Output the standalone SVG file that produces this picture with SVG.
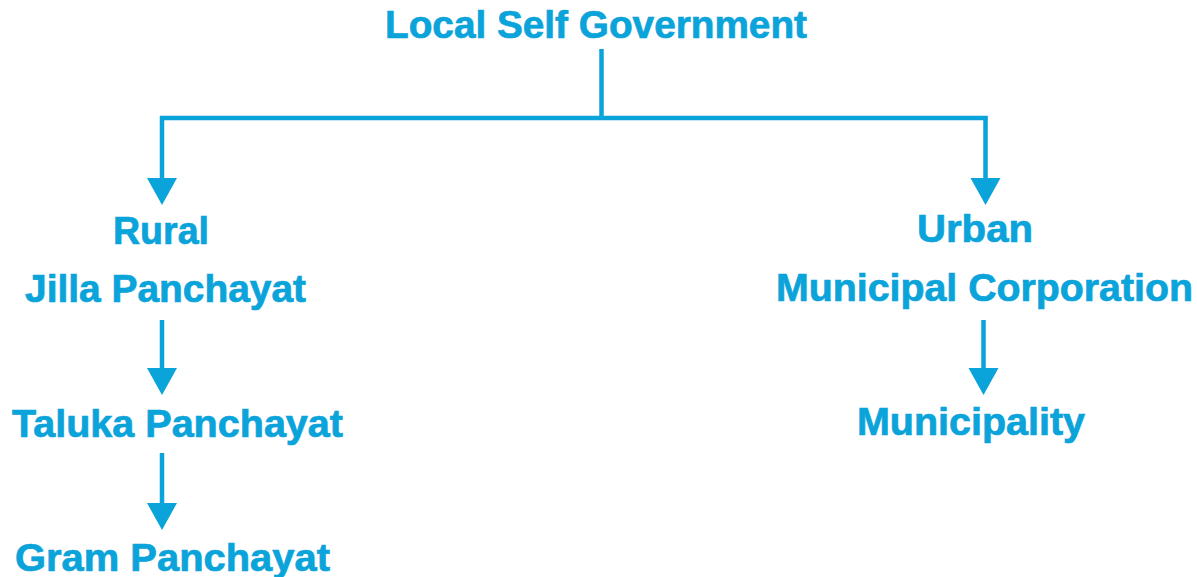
<svg xmlns="http://www.w3.org/2000/svg" width="1197" height="577" viewBox="0 0 1197 577">
<style>
  .lbl { font-family: "Liberation Sans", Arial, sans-serif; font-weight: bold; font-size: 38px; fill: #0aa3da; stroke: #0aa3da; stroke-width: 0.7px; }
  .con { stroke: #0aa3da; stroke-width: 4.5; fill: none; }
</style>
<defs>
  <marker id="arr" markerUnits="userSpaceOnUse" markerWidth="28" markerHeight="31" refX="0" refY="15" orient="auto" viewBox="0 0 28 31">
    <path d="M0,0 L27,15 L0,30 Z" fill="#0aa3da"/>
  </marker>
</defs>
<rect width="1197" height="577" fill="#ffffff"/>
<g id="connectors">
  <path class="con" d="M601.5,49 V118"/>
  <path class="con" d="M160,118 H987.5"/>
  <path class="con" d="M162,116 V178" marker-end="url(#arr)"/>
  <path class="con" d="M985.5,116 V178" marker-end="url(#arr)"/>
  <path class="con" d="M162,320 V368" marker-end="url(#arr)"/>
  <path class="con" d="M162,453 V503" marker-end="url(#arr)"/>
  <path class="con" d="M983.5,320 V368" marker-end="url(#arr)"/>
</g>
<g id="node-local-self-government"><text class="lbl" x="385" y="38" textLength="422" lengthAdjust="spacingAndGlyphs">Local Self Government</text></g>
<g id="node-rural"><text class="lbl" x="113" y="244" textLength="96" lengthAdjust="spacingAndGlyphs">Rural</text></g>
<g id="node-jilla-panchayat"><text class="lbl" x="25" y="302" textLength="281" lengthAdjust="spacingAndGlyphs">Jilla Panchayat</text></g>
<g id="node-taluka-panchayat"><text class="lbl" x="12" y="437" textLength="331" lengthAdjust="spacingAndGlyphs">Taluka Panchayat</text></g>
<g id="node-gram-panchayat"><text class="lbl" x="15" y="571" textLength="315" lengthAdjust="spacingAndGlyphs">Gram Panchayat</text></g>
<g id="node-urban"><text class="lbl" x="917" y="242" textLength="116" lengthAdjust="spacingAndGlyphs">Urban</text></g>
<g id="node-municipal-corporation"><text class="lbl" x="776" y="301" textLength="417" lengthAdjust="spacingAndGlyphs">Municipal Corporation</text></g>
<g id="node-municipality"><text class="lbl" x="857" y="435" textLength="228" lengthAdjust="spacingAndGlyphs">Municipality</text></g>
</svg>
